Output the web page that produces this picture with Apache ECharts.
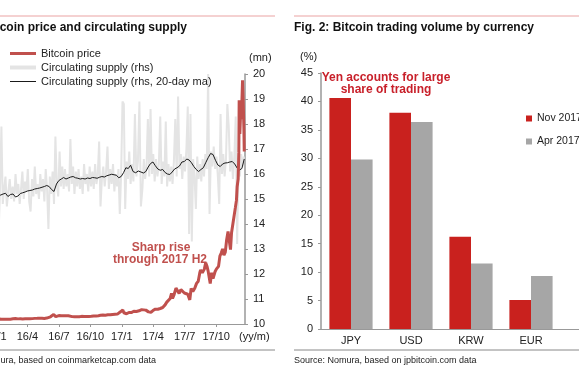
<!DOCTYPE html>
<html><head><meta charset="utf-8">
<script src="https://cdn.jsdelivr.net/npm/echarts@6/dist/echarts.min.js"></script>
<style>html,body{margin:0;padding:0;background:#fff}#c{width:579px;height:382px}</style>
</head><body><div id="c"></div>
<script>
// ---------- Fig. 1 data ----------
const priceData = [
['2016-01-01',434],['2016-01-08',453],['2016-01-15',375],['2016-01-22',383],['2016-01-29',379],
['2016-02-05',386],['2016-02-12',384],['2016-02-19',421],['2016-02-26',432],
['2016-03-04',410],['2016-03-11',420],['2016-03-18',408],['2016-03-25',417],
['2016-04-01',417],['2016-04-08',420],['2016-04-15',430],['2016-04-22',450],['2016-04-29',455],
['2016-05-06',460],['2016-05-13',455],['2016-05-20',442],['2016-05-27',473],['2016-05-31',531],
['2016-06-07',575],['2016-06-12',700],['2016-06-16',766],['2016-06-18',750],['2016-06-22',590],['2016-06-26',630],
['2016-07-01',676],['2016-07-08',665],['2016-07-15',665],['2016-07-22',660],['2016-07-29',655],
['2016-08-02',547],['2016-08-09',590],['2016-08-16',580],['2016-08-23',584],['2016-08-30',577],
['2016-09-06',611],['2016-09-13',608],['2016-09-20',610],['2016-09-27',606],
['2016-10-04',612],['2016-10-11',641],['2016-10-18',638],['2016-10-25',657],['2016-10-31',700],
['2016-11-07',711],['2016-11-14',705],['2016-11-21',738],['2016-11-28',734],
['2016-12-05',765],['2016-12-12',780],['2016-12-19',792],['2016-12-23',920],['2016-12-28',975],
['2017-01-01',998],['2017-01-04',1130],['2017-01-07',900],['2017-01-11',780],['2017-01-15',820],['2017-01-22',925],['2017-01-29',915],
['2017-02-05',1020],['2017-02-12',1000],['2017-02-19',1055],['2017-02-26',1150],
['2017-03-03',1260],['2017-03-10',1110],['2017-03-14',1240],['2017-03-18',970],['2017-03-25',930],['2017-03-31',1075],
['2017-04-07',1190],['2017-04-14',1180],['2017-04-21',1240],['2017-04-28',1320],
['2017-05-05',1530],['2017-05-10',1750],['2017-05-15',1740],['2017-05-20',2040],['2017-05-24',2450],['2017-05-27',2050],['2017-05-31',2300],
['2017-06-06',2870],['2017-06-11',2960],['2017-06-15',2440],['2017-06-20',2750],['2017-06-25',2590],['2017-06-30',2480],
['2017-07-05',2600],['2017-07-10',2380],['2017-07-16',1930],['2017-07-20',2850],['2017-07-25',2590],['2017-07-31',2875],
['2017-08-05',3250],['2017-08-10',3420],['2017-08-15',4150],['2017-08-17',4330],['2017-08-22',4090],['2017-08-28',4390],
['2017-09-01',4890],['2017-09-05',4590],['2017-09-08',4230],['2017-09-12',4160],['2017-09-14',3230],['2017-09-18',4100],['2017-09-22',3630],['2017-09-28',4200],
['2017-10-02',4410],['2017-10-08',4610],['2017-10-12',5430],['2017-10-16',5680],['2017-10-20',6010],['2017-10-24',5500],['2017-10-28',5750],
['2017-11-01',6740],['2017-11-05',7400],['2017-11-08',7460],['2017-11-12',5950],['2017-11-15',7300],['2017-11-19',8040],['2017-11-23',8100],['2017-11-26',9330],
['2017-11-29',9890],['2017-12-01',10980],['2017-12-04',11600],['2017-12-06',13750],['2017-12-07',17900],['2017-12-09',15200],['2017-12-11',16700],
['2017-12-13',16400],['2017-12-15',17700],['2017-12-17',19500],['2017-12-19',17800],['2017-12-21',15600],['2017-12-22',13800]
];
// circulating supply (mn), every 4 days from 2016-01-01
const supplyStart = '2016-01-01';
const supplyStepDays = 4;
const supplyValues = [
15.6,14.9,13.7,15.5,17.9,14.8,15.4,15.9,14.7,15.3,
15.8,15.0,15.5,14.9,16.0,15.2,15.6,14.8,15.4,16.1,
15.0,15.7,15.3,16.2,14.9,14.5,15.8,15.1,16.3,15.2,
15.6,15.0,16.0,15.3,15.8,14.9,16.2,15.4,13.8,15.9,
15.2,16.1,14.8,17.5,15.6,15.1,16.9,15.5,16.3,15.4,
16.2,15.5,16.0,15.3,17.4,15.6,16.3,15.2,16.1,15.5,
16.2,15.4,15.9,15.2,16.4,15.6,16.0,15.3,16.3,15.5,
16.1,15.4,16.4,15.6,16.0,17.3,14.7,15.8,16.3,15.5,
16.1,17.1,15.4,16.2,15.6,16.4,15.3,16.0,15.5,16.2,
14.4,16.0,18.9,18.8,14.6,16.5,15.8,16.9,15.6,16.4,
15.7,18.4,15.9,16.5,18.9,14.7,15.4,16.6,15.8,16.3,
18.2,15.9,18.6,16.0,16.8,15.7,16.6,15.9,16.4,18.3,
15.6,16.5,15.9,18.1,15.5,16.4,15.7,16.3,15.6,16.5,
18.2,15.9,19.1,16.2,16.8,15.8,16.7,16.1,17.0,18.7,
13.6,18.4,13.3,16.6,15.9,14.6,16.7,15.8,16.4,15.7,
16.6,15.9,16.8,16.2,20.0,14.4,16.9,16.3,17.1,16.2,
16.7,15.9,14.8,18.4,16.0,16.8,15.9,16.6,18.8,17.9,
16.1,16.9,15.8,16.7,18.3,13.2,16.5,15.9,16.8,16.3,16.7
];
// 20-day moving average (mn), weekly from 2016-01-01
const maStart = '2016-01-01';
const maStepDays = 7;
const maValues = [
15.15,15.12,15.16,15.20,15.23,15.10,15.18,15.20,15.08,15.12,
15.22,15.25,15.28,15.32,15.34,15.36,15.40,15.42,15.44,15.47,
15.50,15.54,15.50,15.38,15.30,15.60,15.74,15.80,15.86,15.80,
15.84,15.88,15.90,15.85,15.83,15.80,15.82,15.80,15.84,15.82,
15.86,15.85,15.83,15.87,15.90,15.88,15.93,15.96,15.99,15.97,
15.95,15.85,15.90,16.05,16.25,16.22,16.35,16.10,16.05,16.12,
16.08,16.04,16.10,16.28,16.42,16.48,16.33,16.20,16.15,16.18,
16.06,16.00,15.98,16.08,16.20,16.25,16.32,16.48,16.50,16.60,
16.56,16.45,16.30,16.18,16.10,16.18,16.25,16.45,16.65,16.82,
16.78,16.55,16.36,16.30,16.40,16.44,16.45,16.48,16.50,16.40,
16.24,16.16,16.22,16.60
];
const supplyTicks = [10,20,1];       // min, max, step (mn)
const monthTickLabels = ['16/1','16/4','16/7','16/10','17/1','17/4','17/7','17/10'];

// ---------- Fig. 2 data ----------
const currencies = ['JPY','USD','KRW','EUR',''];
const nov2017 = [40.6, 38.0, 16.2, 5.1, null];
const apr2017 = [29.8, 36.4, 11.5, 9.3, null];

// ---------- helpers ----------
function monthsSince2016(dt){
  const y=dt.getFullYear(), m=dt.getMonth(), d=dt.getDate();
  const dim=new Date(y,m+1,0).getDate();
  return (y-2016)*12+m+(d-1)/dim;
}
function parseD(s){const p=s.split('-').map(Number);return new Date(p[0],p[1]-1,p[2]);}
function stepSeries(start, step, vals){
  const s=parseD(start);
  return vals.map((v,i)=>[monthsSince2016(new Date(s.getFullYear(),s.getMonth(),s.getDate()+step*i)), v]);
}
const pricePts = priceData.map(p=>[monthsSince2016(parseD(p[0])), p[1]]);
const supplyPts = stepSeries(supplyStart, supplyStepDays, supplyValues);
const maPts = stepSeries(maStart, maStepDays, maValues);

const FF = '"Liberation Sans", Arial, sans-serif';
const txt = (text,x,y,o)=>Object.assign({type:'text',x:x,y:y,silent:true,
  style:Object.assign({text:text,font:'11px '+FF,fill:'#222',align:'left',verticalAlign:'middle',textAlign:'left',textVerticalAlign:'middle'},o||{})});
const rule = (x1,x2,y,c)=>({type:'line',silent:true,shape:{x1:x1,y1:y,x2:x2,y2:y},style:{stroke:c,lineWidth:1}});

const chart = echarts.init(document.getElementById('c'));
chart.setOption({
  animation:false,
  backgroundColor:'#fff',
  textStyle:{fontFamily:FF},
  grid:[
    {left:-4, top:74, width:249, height:250, containLabel:false, outerBoundsMode:'none'},
    {left:321, top:73, width:300, height:256, containLabel:false, outerBoundsMode:'none'}
  ],
  legend:[
    {data:[
       {name:'Bitcoin price', icon:'path://M0,0H26V3H0Z'},
       {name:'Circulating supply (rhs)', icon:'path://M0,0H26V4H0Z'},
       {name:'Circulating supply (rhs, 20-day ma)', icon:'path://M0,0H26V1H0Z'}],
     left:10, top:48, orient:'vertical', itemWidth:26, itemHeight:12, itemGap:3, padding:0,
     selectedMode:false, textStyle:{fontSize:11,color:'#222',fontFamily:FF}},
    {data:['Nov 2017','Apr 2017'], left:526, top:113, orient:'vertical', icon:'rect',
     itemWidth:6, itemHeight:6, itemGap:12, padding:0, selectedMode:false,
     textStyle:{fontSize:10.5,color:'#222',fontFamily:FF}}
  ],
  xAxis:[
    {type:'value', gridIndex:0, min:0, max:23.75, interval:3,
     axisLine:{lineStyle:{color:'#999'}}, axisTick:{length:3,lineStyle:{color:'#999'}},
     splitLine:{show:false},
     axisLabel:{fontSize:11,color:'#222',margin:7,showMaxLabel:false,
       formatter:v=>{const r=Math.round(v); if(Math.abs(v-r)>1e-6||r%3!==0) return ''; return monthTickLabels[r/3]||'';}}},
    {type:'category', gridIndex:1, data:currencies,
     axisLine:{lineStyle:{color:'#999'}}, axisTick:{length:4,lineStyle:{color:'#999'}},
     axisLabel:{fontSize:11,color:'#222',margin:6}}
  ],
  yAxis:[
    {type:'value', gridIndex:0, position:'left', min:0, max:20000, show:false},
    {type:'value', gridIndex:0, position:'right', min:supplyTicks[0], max:supplyTicks[1], interval:supplyTicks[2],
     axisLine:{show:true,lineStyle:{color:'#999',width:1.5}}, axisTick:{show:true,length:3,lineStyle:{color:'#999'}},
     splitLine:{show:false}, axisLabel:{fontSize:11,color:'#222',margin:8}},
    {type:'value', gridIndex:1, min:0, max:45, interval:5,
     axisLine:{show:true,lineStyle:{color:'#999',width:1.5}}, axisTick:{show:true,length:3,lineStyle:{color:'#999'}},
     splitLine:{show:false}, axisLabel:{fontSize:11,color:'#222',margin:8}}
  ],
  series:[
    {name:'Circulating supply (rhs)', type:'line', xAxisIndex:0, yAxisIndex:1, data:supplyPts,
     symbol:'none', lineStyle:{color:'#e4e4e4',width:2}, itemStyle:{color:'#e4e4e4'}, z:1},
    {name:'Circulating supply (rhs, 20-day ma)', type:'line', xAxisIndex:0, yAxisIndex:1, data:maPts,
     symbol:'none', lineStyle:{color:'#1a1a1a',width:1}, itemStyle:{color:'#1a1a1a'}, z:2},
    {name:'Bitcoin price', type:'line', xAxisIndex:0, yAxisIndex:0, data:pricePts,
     symbol:'none', lineStyle:{color:'#c0504d',width:3}, itemStyle:{color:'#c0504d'}, z:3},
    {name:'Nov 2017', type:'bar', xAxisIndex:1, yAxisIndex:2, data:nov2017,
     itemStyle:{color:'#c9211e'}, barGap:'0%', barCategoryGap:'28%'},
    {name:'Apr 2017', type:'bar', xAxisIndex:1, yAxisIndex:2, data:apr2017,
     itemStyle:{color:'#a6a6a6'}, barGap:'0%', barCategoryGap:'28%'}
  ],
  graphic:[
    rule(0,275,16,'#eaa3a3'), rule(294,579,16,'#eaa3a3'),
    rule(0,275,350,'#888'), rule(294,579,350,'#888'),
    txt('Fig. 1: Bitcoin price and circulating supply',-55,28,{font:'bold 12px '+FF,fill:'#111'}),
    txt('Fig. 2: Bitcoin trading volume by currency',294,28,{font:'bold 12px '+FF,fill:'#111'}),
    txt('Source: Nomura, based on coinmarketcap.com data',-52,361,{font:'9px '+FF}),
    txt('Source: Nomura, based on jpbitcoin.com data',294,361,{font:'9px '+FF}),
    txt('(mn)',249,58), txt('(%)',300,57), txt('(yy/m)',239,337),
    txt('Sharp rise',161,248,{font:'bold 12px '+FF,fill:'#c0504d',align:'center',textAlign:'center'}),
    txt('through 2017 H2',160,260,{font:'bold 12px '+FF,fill:'#c0504d',align:'center',textAlign:'center'}),
    txt('Yen accounts for large',386,78,{font:'bold 12px '+FF,fill:'#c8202a',align:'center',textAlign:'center'}),
    txt('share of trading',386,90,{font:'bold 12px '+FF,fill:'#c8202a',align:'center',textAlign:'center'})
  ]
});
</script></body></html>
